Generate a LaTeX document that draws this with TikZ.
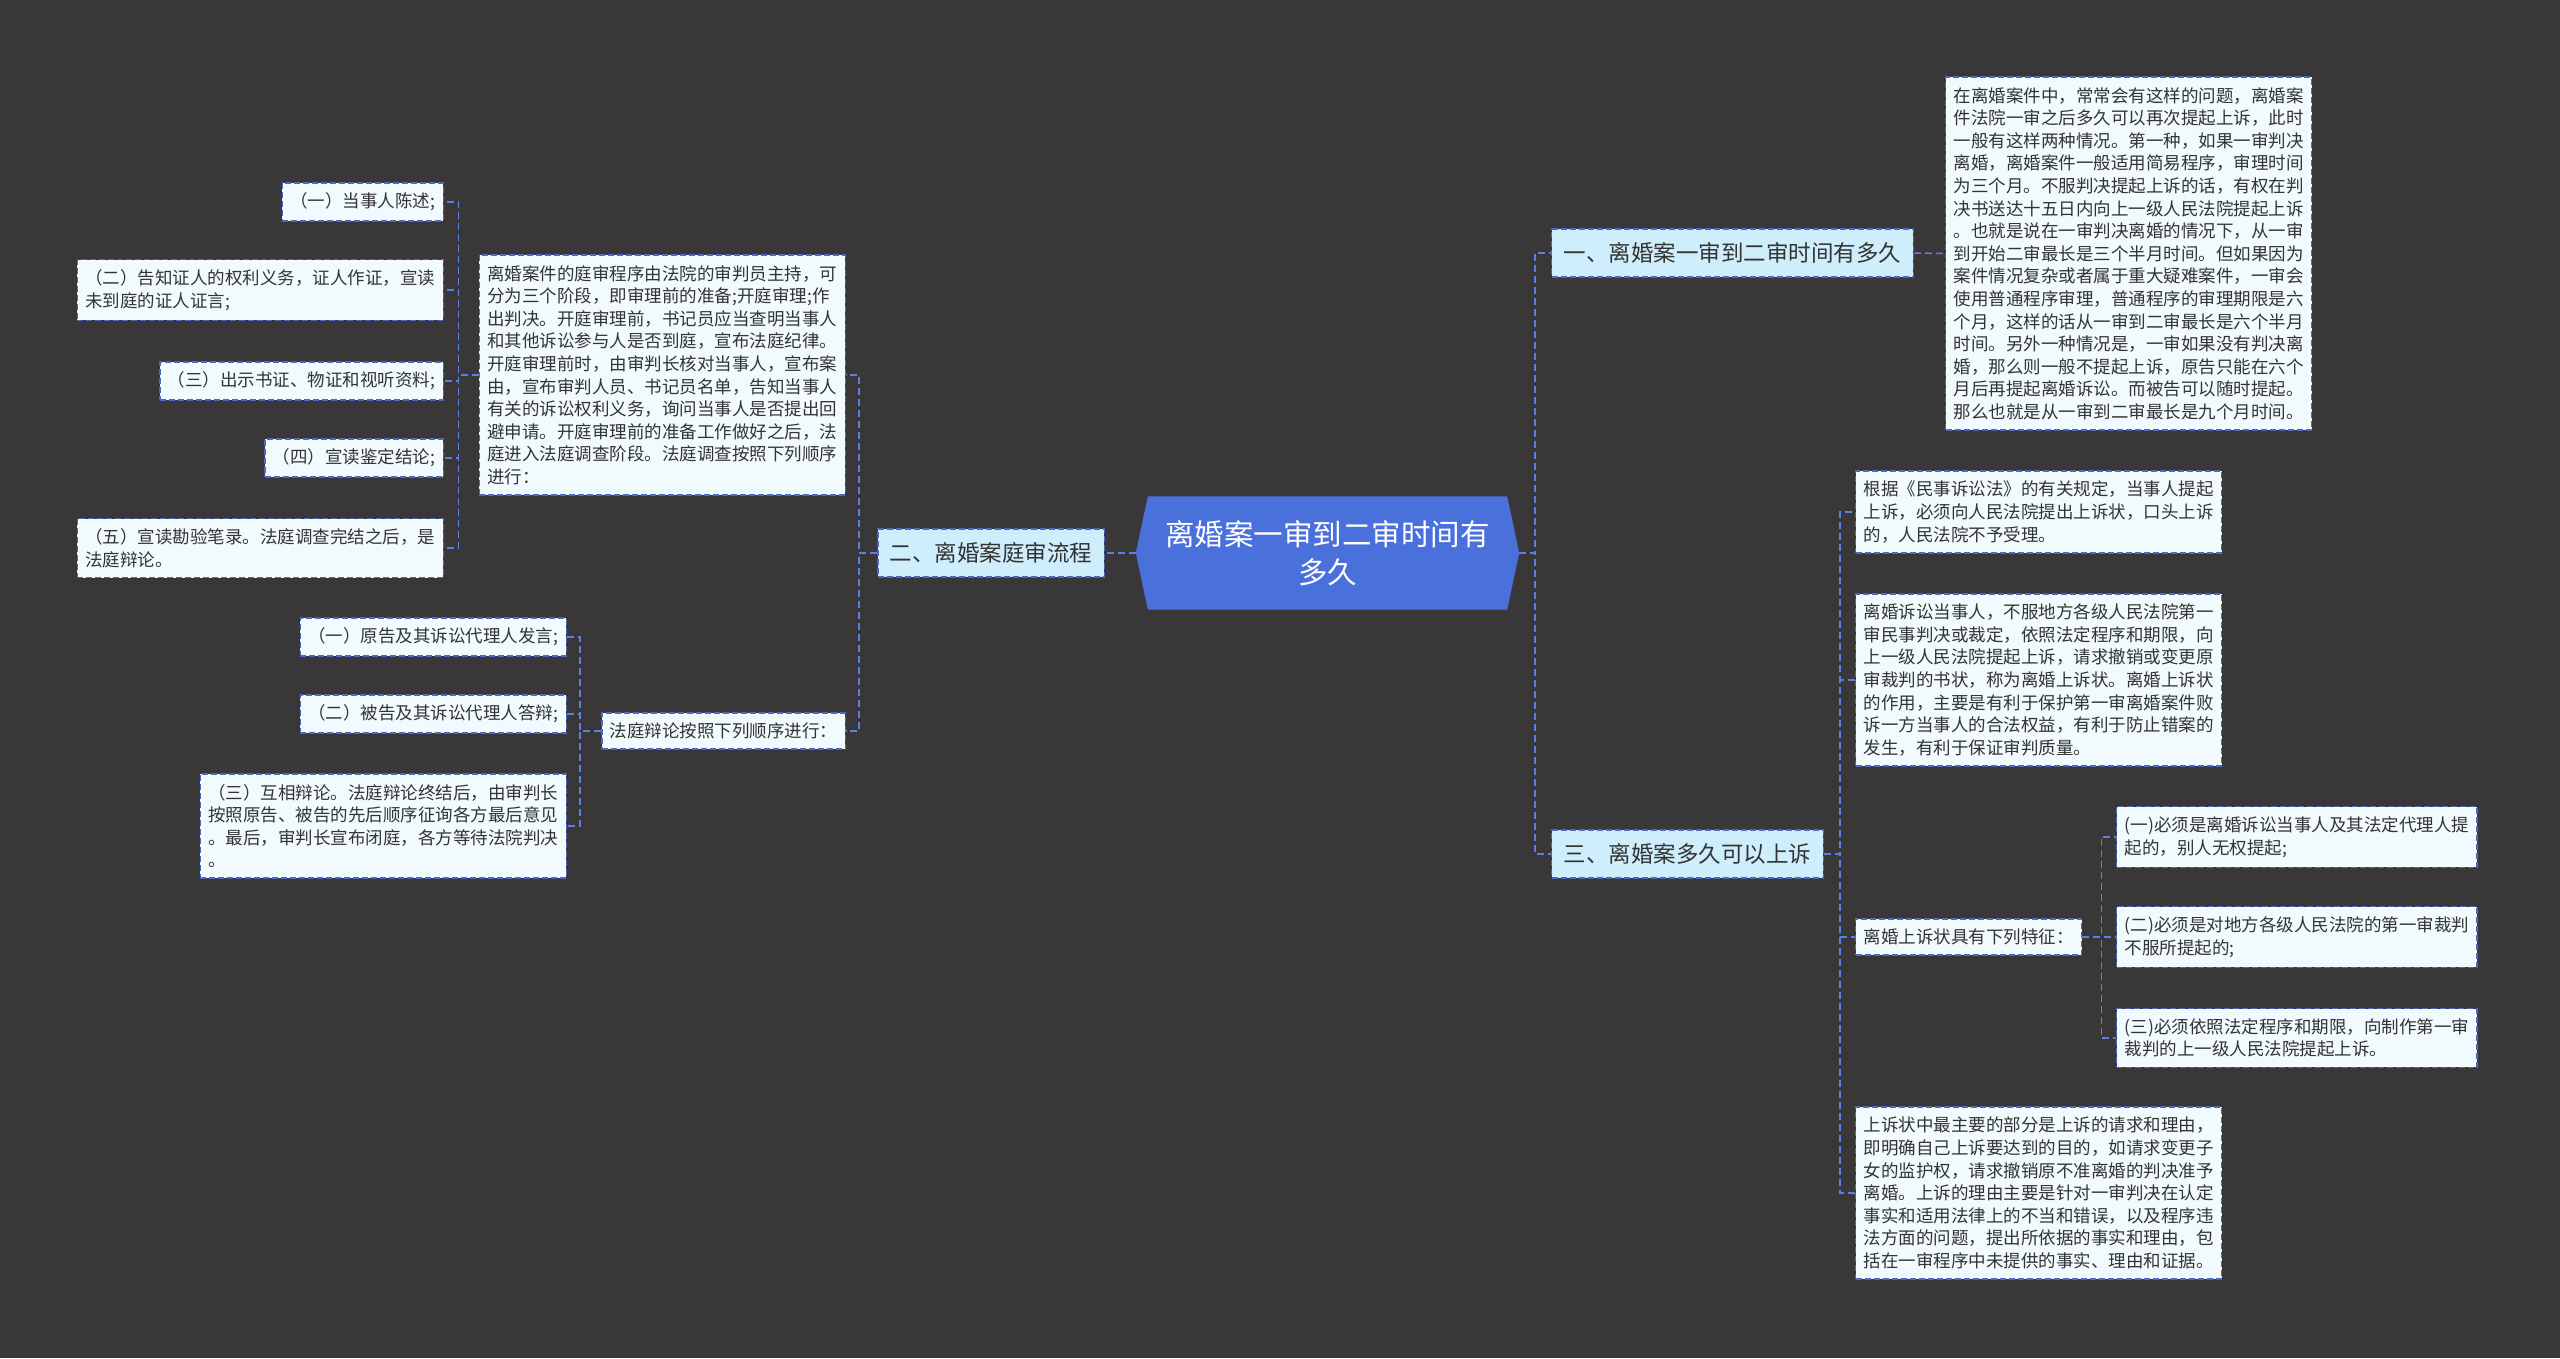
\documentclass[tikz,border=0pt]{standalone}
\usepackage{fontspec}
\setmainfont{Noto Sans CJK SC}
\usetikzlibrary{backgrounds}
\definecolor{canvas}{HTML}{393738}
\definecolor{rootblue}{HTML}{4A70DC}
\definecolor{linkblue}{HTML}{5B7FE3}
\definecolor{edgeblue}{HTML}{4C68C4}
\definecolor{branchfill}{HTML}{CFEEFB}
\definecolor{leaffill}{HTML}{F1FAFD}
\definecolor{inktext}{HTML}{333333}
\tikzset{
  rootnode/.style={text=white,align=center,minimum width=359pt,minimum height=113pt,inner sep=0pt,font={\fontsize{29.5}{38}\selectfont}},
  branch/.style={fill=branchfill,draw=edgeblue,dash pattern=on 6pt off 3pt,line width=1.4pt,text=inktext,inner xsep=12pt,inner ysep=13.5pt,font={\fontsize{22.5}{28}\selectfont}},
  leaf/.style={fill=leaffill,draw=edgeblue,dash pattern=on 6pt off 3pt,line width=1.4pt,text=inktext,align=left,inner xsep=8pt,inner ysep=10pt,font={\fontsize{17.5}{22.6}\selectfont}},
  link/.style={draw=linkblue,line width=1.5pt,dash pattern=on 7pt off 4pt}
}
\begin{document}
\begin{tikzpicture}[x=1pt,y=-1pt]
\useasboundingbox (0,0) rectangle (2560,1358);
% centre
\node[rootnode] (root) at (1327.5,553) {离婚案一审到二审时间有\\多久};
\coordinate (rootR) at ([xshift=12pt]root.east);
\coordinate (rootL) at ([xshift=-12pt]root.west);
% main branches
\node[branch,anchor=west] (b1) at (1551,253) {一、离婚案一审到二审时间有多久};
\node[branch,anchor=east] (b2) at (1105,553) {二、离婚案庭审流程};
\node[branch,anchor=west] (b3) at (1551,854) {三、离婚案多久可以上诉};
% branch one
\node[leaf,anchor=west] (a1) at (1945,253.5) {在离婚案件中，常常会有这样的问题，离婚案\\件法院一审之后多久可以再次提起上诉，此时\\一般有这样两种情况。第一种，如果一审判决\\离婚，离婚案件一般适用简易程序，审理时间\\为三个月。不服判决提起上诉的话，有权在判\\决书送达十五日内向上一级人民法院提起上诉\\。也就是说在一审判决离婚的情况下，从一审\\到开始二审最长是三个半月时间。但如果因为\\案件情况复杂或者属于重大疑难案件，一审会\\使用普通程序审理，普通程序的审理期限是六\\个月，这样的话从一审到二审最长是六个半月\\时间。另外一种情况是，一审如果没有判决离\\婚，那么则一般不提起上诉，原告只能在六个\\月后再提起离婚诉讼。而被告可以随时提起。\\那么也就是从一审到二审最长是九个月时间。};
% branch two
\node[leaf,anchor=east] (p1) at (846,375) {离婚案件的庭审程序由法院的审判员主持，可\\分为三个阶段，即审理前的准备;开庭审理;作\\出判决。开庭审理前，书记员应当查明当事人\\和其他诉讼参与人是否到庭，宣布法庭纪律。\\开庭审理前时，由审判长核对当事人，宣布案\\由，宣布审判人员、书记员名单，告知当事人\\有关的诉讼权利义务，询问当事人是否提出回\\避申请。开庭审理前的准备工作做好之后，法\\庭进入法庭调查阶段。法庭调查按照下列顺序\\进行：};
\node[leaf,anchor=east] (p2) at (846,731) {法庭辩论按照下列顺序进行：};
\node[leaf,anchor=east] (t1) at (444,202) {（一）当事人陈述;};
\node[leaf,anchor=east] (t2) at (444,290) {（二）告知证人的权利义务，证人作证，宣读\\未到庭的证人证言;};
\node[leaf,anchor=east] (t3) at (444,381) {（三）出示书证、物证和视听资料;};
\node[leaf,anchor=east] (t4) at (444,458) {（四）宣读鉴定结论;};
\node[leaf,anchor=east] (t5) at (444,548) {（五）宣读勘验笔录。法庭调查完结之后，是\\法庭辩论。};
\node[leaf,anchor=east] (d1) at (567,637) {（一）原告及其诉讼代理人发言;};
\node[leaf,anchor=east] (d2) at (567,714) {（二）被告及其诉讼代理人答辩;};
\node[leaf,anchor=east] (d3) at (567,826) {（三）互相辩论。法庭辩论终结后，由审判长\\按照原告、被告的先后顺序征询各方最后意见\\。最后，审判长宣布闭庭，各方等待法院判决\\。};
% branch three
\node[leaf,anchor=west] (s1) at (1855,512) {根据《民事诉讼法》的有关规定，当事人提起\\上诉，必须向人民法院提出上诉状，口头上诉\\的，人民法院不予受理。};
\node[leaf,anchor=west] (s2) at (1855,680) {离婚诉讼当事人，不服地方各级人民法院第一\\审民事判决或裁定，依照法定程序和期限，向\\上一级人民法院提起上诉，请求撤销或变更原\\审裁判的书状，称为离婚上诉状。离婚上诉状\\的作用，主要是有利于保护第一审离婚案件败\\诉一方当事人的合法权益，有利于防止错案的\\发生，有利于保证审判质量。};
\node[leaf,anchor=west] (s3) at (1855,937) {离婚上诉状具有下列特征：};
\node[leaf,anchor=west] (s4) at (1855,1193) {上诉状中最主要的部分是上诉的请求和理由，\\即明确自己上诉要达到的目的，如请求变更子\\女的监护权，请求撤销原不准离婚的判决准予\\离婚。上诉的理由主要是针对一审判决在认定\\事实和适用法律上的不当和错误，以及程序违\\法方面的问题，提出所依据的事实和理由，包\\括在一审程序中未提供的事实、理由和证据。};
\node[leaf,anchor=west] (f1) at (2116,837) {(一)必须是离婚诉讼当事人及其法定代理人提\\起的，别人无权提起;};
\node[leaf,anchor=west] (f2) at (2116,937) {(二)必须是对地方各级人民法院的第一审裁判\\不服所提起的;};
\node[leaf,anchor=west] (f3) at (2116,1038) {(三)必须依照法定程序和期限，向制作第一审\\裁判的上一级人民法院提起上诉。};
\begin{scope}[on background layer]
\fill[canvas] (0,0) rectangle (2560,1358);
\fill[rootblue] (rootL) -- (root.north west) -- (root.north east) -- (rootR) -- (root.south east) -- (root.south west) -- cycle;
% connectors
\draw[link] (rootR) -- ++(16,0) |- (b1.west);
\draw[link] (rootR) -- ++(16,0) |- (b3.west);
\draw[link] (rootL) -- (b2.east);
\draw[link] (b1.east) -- (a1.west);
\foreach \n in {p1,p2} \draw[link] (b2.west) -- ++(-18,0) |- (\n.east);
\foreach \n in {t1,t2,t3,t4,t5} \draw[link] (p1.west) -- ++(-20,0) |- (\n.east);
\foreach \n in {d1,d2,d3} \draw[link] (p2.west) -- ++(-21,0) |- (\n.east);
\foreach \n in {s1,s2,s3,s4} \draw[link] (b3.east) -- ++(16,0) |- (\n.west);
\foreach \n in {f1,f2,f3} \draw[link] (s3.east) -- ++(19,0) |- (\n.west);
\end{scope}
\end{tikzpicture}
\end{document}
